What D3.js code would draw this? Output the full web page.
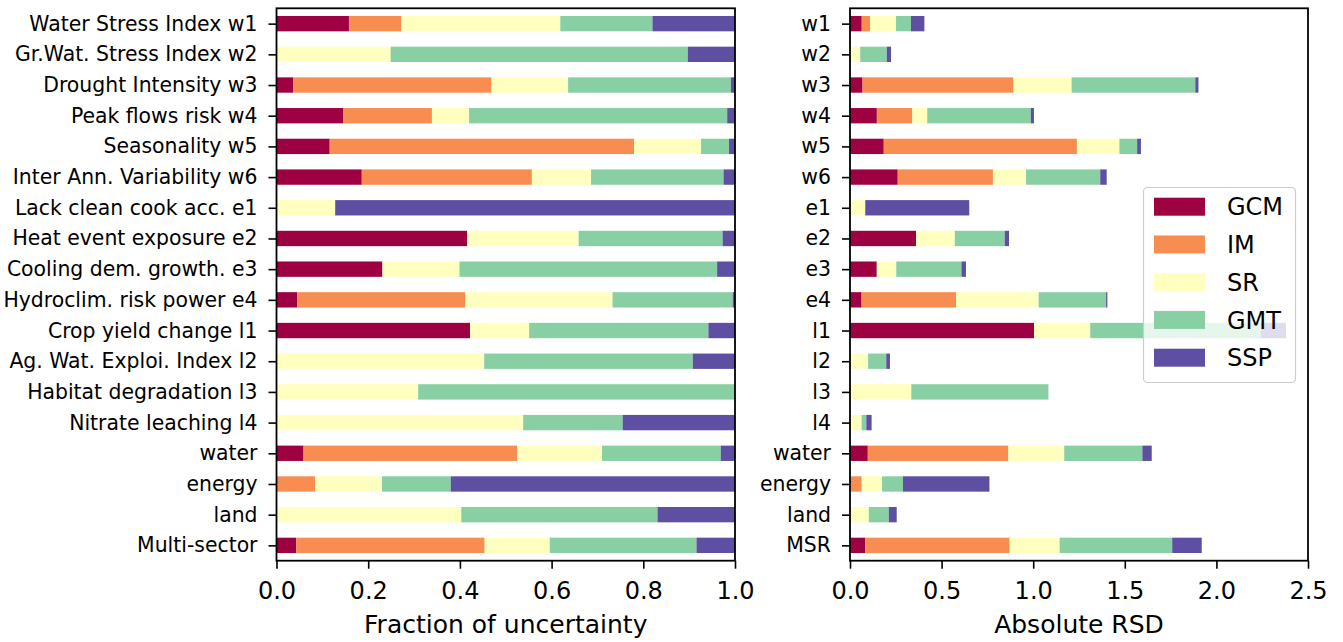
<!DOCTYPE html>
<html>
<head>
<meta charset="utf-8">
<script src="https://cdn.jsdelivr.net/npm/d3@7"></script>
<style>
  body { margin: 0; background: #fff; }
  svg { display: block; }
  text { font-family: "DejaVu Sans", sans-serif; fill: #000; }
</style>
</head>
<body>
<svg id="chart" width="1343" height="642"></svg>
<script>
// Indicator names (left panel) and short codes (right panel), top to bottom
const indicators = [
  "Water Stress Index w1", "Gr.Wat. Stress Index w2", "Drought Intensity w3",
  "Peak flows risk w4", "Seasonality w5", "Inter Ann. Variability w6",
  "Lack clean cook acc. e1", "Heat event exposure e2", "Cooling dem. growth. e3",
  "Hydroclim. risk power e4", "Crop yield change l1", "Ag. Wat. Exploi. Index l2",
  "Habitat degradation l3", "Nitrate leaching l4", "water", "energy", "land", "Multi-sector"
];
const shortNames = [
  "w1", "w2", "w3", "w4", "w5", "w6", "e1", "e2", "e3", "e4",
  "l1", "l2", "l3", "l4", "water", "energy", "land", "MSR"
];

// Uncertainty sources and their colours
const sources = ["GCM", "IM", "SR", "GMT", "SSP"];
const sourceColors = ["#9e0142", "#f88d52", "#ffffbf", "#88cfa4", "#5e4fa2"];

// Fraction of uncertainty explained by each source
const fracGCM = [0.158, 0.000, 0.036, 0.146, 0.116, 0.186, 0.000, 0.416, 0.231, 0.045, 0.422, 0.000, 0.000, 0.000, 0.059, 0.000, 0.000, 0.043];
const fracIM  = [0.114, 0.000, 0.433, 0.193, 0.664, 0.371, 0.000, 0.000, 0.000, 0.367, 0.000, 0.000, 0.000, 0.000, 0.466, 0.084, 0.000, 0.411];
const fracSR  = [0.347, 0.249, 0.167, 0.081, 0.146, 0.129, 0.128, 0.243, 0.168, 0.321, 0.129, 0.453, 0.309, 0.538, 0.185, 0.146, 0.403, 0.142];
const fracGMT = [0.201, 0.648, 0.355, 0.563, 0.061, 0.289, 0.000, 0.314, 0.562, 0.262, 0.391, 0.455, 0.691, 0.217, 0.259, 0.150, 0.428, 0.320];
const fracSSP = [0.180, 0.103, 0.009, 0.017, 0.013, 0.025, 0.872, 0.027, 0.039, 0.005, 0.058, 0.092, 0.000, 0.245, 0.031, 0.620, 0.169, 0.084];

// Total absolute relative standard deviation per indicator
const totalRSD = [0.406, 0.224, 1.902, 1.004, 1.588, 1.401, 0.651, 0.868, 0.633, 1.405, 2.380, 0.218, 1.083, 0.118, 1.647, 0.761, 0.255, 1.920];

// Axis ticks
const fracTicks = [0, 0.2, 0.4, 0.6, 0.8, 1.0];
const rsdTicks = [0, 0.5, 1.0, 1.5, 2.0, 2.5];

const fracBySource = { GCM: fracGCM, IM: fracIM, SR: fracSR, GMT: fracGMT, SSP: fracSSP };

const fracRows = indicators.map((name, i) => {
  const r = { i };
  sources.forEach(s => { r[s] = fracBySource[s][i]; });
  return r;
});
// Absolute RSD share of each source = fraction x total
const rsdRows = indicators.map((name, i) => {
  const r = { i };
  sources.forEach(s => { r[s] = fracBySource[s][i] * totalRSD[i]; });
  return r;
});

const svg = d3.select("#chart");
const plotTop = 8.3, plotBottom = 560.7;
const y = d3.scaleLinear().domain([-0.5, 17.5]).range([plotTop, plotBottom]);
const barH = y(0.25) - y(-0.25);
const color = d3.scaleOrdinal().domain(sources).range(sourceColors);
const stack = d3.stack().keys(sources);

function panel(rows, x, ticks, yLabels, xLabel) {
  const g = svg.append("g");
  const series = stack(rows);
  g.selectAll("g.series").data(series).join("g")
    .attr("class", "series")
    .attr("fill", d => color(d.key))
    .selectAll("rect").data(d => d).join("rect")
      .attr("x", d => x(d[0]))
      .attr("width", d => Math.max(0, x(d[1]) - x(d[0])))
      .attr("y", d => y(d.data.i) - barH / 2)
      .attr("height", barH);

  const xAxis = g.append("g")
    .attr("transform", `translate(0,${plotBottom})`)
    .call(d3.axisBottom(x).tickValues(ticks).tickFormat(d3.format(".1f")).tickSize(8).tickPadding(13));
  xAxis.select(".domain").remove();
  xAxis.selectAll("line").attr("stroke", "#000").attr("stroke-width", 1.6);
  xAxis.selectAll("text").style("font-size", "24px").attr("fill", "#000");

  const yAxis = g.append("g")
    .attr("transform", `translate(${x.range()[0]},0)`)
    .call(d3.axisLeft(y).tickValues(d3.range(yLabels.length)).tickFormat(i => yLabels[i]).tickSize(8).tickPadding(11));
  yAxis.select(".domain").remove();
  yAxis.selectAll("line").attr("stroke", "#000").attr("stroke-width", 1.6);
  yAxis.selectAll("text").style("font-size", "20.4px").attr("fill", "#000");

  // Frame
  g.append("rect")
    .attr("x", x.range()[0]).attr("y", plotTop)
    .attr("width", x.range()[1] - x.range()[0]).attr("height", plotBottom - plotTop)
    .attr("fill", "none").attr("stroke", "#000").attr("stroke-width", 1.8);

  g.append("text")
    .attr("x", (x.range()[0] + x.range()[1]) / 2)
    .attr("y", 633)
    .attr("text-anchor", "middle")
    .style("font-size", "25px")
    .text(xLabel);
}

const xFrac = d3.scaleLinear().domain([0, 1]).range([276.5, 735]);
const xRSD = d3.scaleLinear().domain([0, 2.5]).range([850, 1308]);

panel(fracRows, xFrac, fracTicks, indicators, "Fraction of uncertainty");
panel(rsdRows, xRSD, rsdTicks, shortNames, "Absolute RSD");

// Legend
const legend = svg.append("g");
legend.append("rect")
  .attr("x", 1143.5).attr("y", 187.5)
  .attr("width", 152).attr("height", 195)
  .attr("rx", 4)
  .attr("fill", "#fff").attr("fill-opacity", 0.8)
  .attr("stroke", "#cccccc").attr("stroke-width", 1.2);
const item = legend.selectAll("g.item").data(sources).join("g")
  .attr("class", "item")
  .attr("transform", (d, k) => `translate(0,${206.7 + k * 37.75})`);
item.append("rect")
  .attr("x", 1154).attr("y", -9)
  .attr("width", 51).attr("height", 18)
  .attr("fill", d => color(d));
item.append("text")
  .attr("x", 1227).attr("y", 8.7)
  .style("font-size", "24px")
  .text(d => d);
</script>
</body>
</html>
